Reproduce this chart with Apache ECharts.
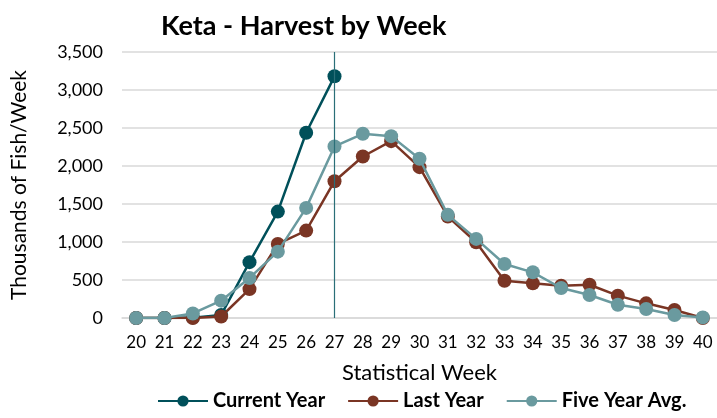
<!DOCTYPE html>
<html>
<head>
<meta charset="utf-8">
<script src="https://cdn.jsdelivr.net/npm/echarts@6/dist/echarts.min.js"></script>
<style>
  html, body { margin: 0; padding: 0; background: #fff; }
  #chart { width: 717px; height: 418px; }
</style>
</head>
<body>
<div id="chart"></div>
<script>
const weeks = ['20', '21', '22', '23', '24', '25', '26', '27', '28', '29', '30',
  '31', '32', '33', '34', '35', '36', '37', '38', '39', '40'];

// thousands of fish per week
const currentYear = [0, 0, 5, 40, 735, 1400, 2437, 3180];
const lastYear = [0, 0, 0, 20, 380, 975, 1150, 1800, 2125, 2327, 1985,
  1335, 996, 491, 456, 425, 438, 294, 193, 105, 0];
const fiveYearAvg = [0, 0, 60, 228, 527, 873, 1449, 2257, 2424, 2393, 2095,
  1357, 1041, 711, 601, 395, 303, 175, 118, 40, 8];

const currentWeek = '27';

const font = 'Lato';

function initChart(dom) {
  const chart = echarts.init(dom, null, { renderer: 'canvas' });

  var option = {
    animation: false,
    title: {
      text: 'Keta - Harvest by Week',
      left: 156,
      top: 8,
      textStyle: { fontFamily: font, fontSize: 27, fontWeight: 'bold', color: '#000' }
    },
    legend: {
      bottom: 2,
      left: 152,
      itemWidth: 50,
      itemHeight: 14,
      itemGap: 22,
      textStyle: { fontFamily: font, fontSize: 20, fontWeight: 'bold', color: '#000' },
      data: ['Current Year', 'Last Year', 'Five Year Avg.']
    },
    grid: {
      left: 122,
      top: 52,
      width: 598,
      height: 266
    },
    xAxis: {
      type: 'category',
      boundaryGap: true,
      data: weeks,
      name: 'Statistical Week',
      nameLocation: 'middle',
      nameGap: 44,
      nameTextStyle: { fontFamily: font, fontSize: 22, color: '#000' },
      axisLine: { lineStyle: { color: '#d9d9d9', width: 1.5 } },
      axisTick: { show: false },
      axisLabel: { fontFamily: font, fontSize: 17, color: '#000', margin: 16 }
    },
    yAxis: {
      type: 'value',
      min: 0,
      max: 3500,
      interval: 500,
      name: 'Thousands of Fish/Week',
      nameLocation: 'middle',
      nameGap: 92,
      nameTextStyle: { fontFamily: font, fontSize: 21, color: '#000' },
      axisLine: { show: false },
      axisTick: { show: false },
      axisLabel: {
        fontFamily: font, fontSize: 18, color: '#000', margin: 19,
        formatter: v => v.toLocaleString('en-US')
      },
      splitLine: { lineStyle: { color: '#d9d9d9', width: 1.5 } }
    },
    series: [{
      name: 'Current Year',
      type: 'line',
      data: currentYear,
      symbol: 'circle',
      symbolSize: 14,
      z: 2,
      itemStyle: { color: '#00505a' },
      lineStyle: { color: '#00505a', width: 2.5 },
      markLine: {
        silent: true,
        symbol: 'none',
        label: { show: false },
        lineStyle: { color: '#2a6f78', width: 1.2, type: 'solid' },
        data: [{ xAxis: currentWeek }]
      }
    }, {
      name: 'Last Year',
      type: 'line',
      data: lastYear,
      symbol: 'circle',
      symbolSize: 14,
      z: 3,
      itemStyle: { color: '#7a3524' },
      lineStyle: { color: '#7a3524', width: 2.5 }
    }, {
      name: 'Five Year Avg.',
      type: 'line',
      data: fiveYearAvg,
      symbol: 'circle',
      symbolSize: 14,
      z: 4,
      itemStyle: { color: '#6a9a9f' },
      lineStyle: { color: '#6a9a9f', width: 2.5 }
    }]
  };
  chart.setOption(option);
  return chart;
}

initChart(document.getElementById('chart'));
</script>
</body>
</html>
